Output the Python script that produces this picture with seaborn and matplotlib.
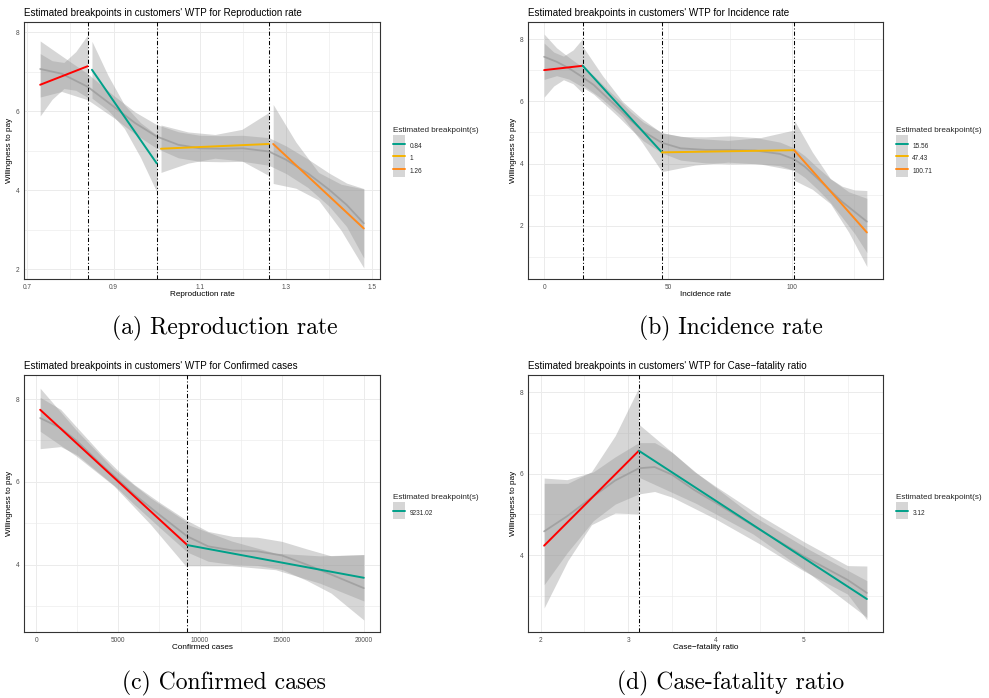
import numpy as np
import pandas as pd
import matplotlib
matplotlib.use("Agg")
import matplotlib.pyplot as plt
from matplotlib.patches import Patch, Rectangle
from matplotlib.lines import Line2D
from matplotlib.legend_handler import HandlerTuple, HandlerPatch
import seaborn as sns

sns.set_style("white")
plt.rcParams["font.family"] = ["Liberation Sans", "DejaVu Sans"]

# ---------------- (a) Reproduction rate ----------------
repro_breaks = [0.84, 1.0, 1.26]
repro_labels = ["0.84", "1", "1.26"]
repro_seg_x = [(0.73, 0.84), (0.85, 1.0), (1.01, 1.26), (1.27, 1.48)]
repro_seg_y = [(6.67, 7.14), (7.05, 4.68), (5.05, 5.17), (5.17, 3.03)]
repro_band_lo = [[5.88, 6.30, 6.575, 6.53, 6.35],
                 [6.33, 6.02, 5.565, 4.83, 3.96],
                 [4.45, 4.685, 4.81, 4.74, 4.37],
                 [4.17, 4.05, 3.75, 2.98, 2.03]]
repro_band_hi = [[7.46, 7.28, 7.235, 7.51, 7.93],
                 [7.77, 6.90, 6.165, 5.71, 5.40],
                 [5.65, 5.475, 5.41, 5.54, 5.97],
                 [6.17, 5.22, 4.45, 4.15, 4.03]]
repro_smooth_x = [0.73, 0.78, 0.84, 0.9, 0.95, 1.0, 1.05, 1.1, 1.15, 1.2, 1.26, 1.3, 1.35, 1.4, 1.44, 1.48]
repro_smooth_y = [7.07, 6.95, 6.62, 6.12, 5.70, 5.36, 5.15, 5.06, 5.05, 5.06, 4.98, 4.77, 4.43, 4.01, 3.63, 3.16]
repro_smooth_lo = [6.36, 6.50, 6.29, 5.84, 5.42, 5.06, 4.82, 4.73, 4.72, 4.73, 4.63, 4.42, 4.07, 3.59, 3.08, 2.28]
repro_smooth_hi = [7.78, 7.40, 6.95, 6.40, 5.98, 5.66, 5.48, 5.39, 5.38, 5.39, 5.33, 5.12, 4.79, 4.43, 4.18, 4.04]

# ---------------- (b) Incidence rate ----------------
incid_breaks = [15.56, 47.43, 100.71]
incid_labels = ["15.56", "47.43", "100.71"]
incid_seg_x = [(0, 15.56), (15.56, 47.43), (47.43, 100.71), (100.71, 130)]
incid_seg_y = [(7.01, 7.15), (7.15, 4.36), (4.36, 4.43), (4.43, 1.78)]
incid_band_lo = [[6.14, 6.50, 6.70, 6.57, 6.27],
                 [6.53, 6.07, 5.505, 4.68, 3.74],
                 [3.74, 3.95, 4.045, 3.98, 3.78],
                 [3.46, 3.17, 2.705, 1.79, 0.68]]
incid_band_hi = [[7.88, 7.59, 7.46, 7.66, 8.03],
                 [7.77, 6.83, 6.005, 5.44, 4.98],
                 [4.98, 4.81, 4.745, 4.84, 5.08],
                 [5.40, 4.37, 3.505, 3.09, 2.88]]
incid_smooth_x = [0, 5, 10, 15.56, 20, 25, 30, 35, 40, 47.43, 55, 65, 75, 85, 95, 100.71,
                  105, 110, 115, 120, 125, 130]
incid_smooth_y = [7.44, 7.28, 7.07, 6.78, 6.53, 6.15, 5.78, 5.38, 5.03, 4.67, 4.49, 4.44,
                  4.44, 4.42, 4.31, 4.14, 3.90, 3.53, 3.15, 2.77, 2.45, 2.13]
incid_smooth_lo = [6.71, 6.83, 6.72, 6.46, 6.23, 5.87, 5.50, 5.10, 4.73, 4.34, 4.11, 4.02,
                   3.99, 4.00, 3.93, 3.78, 3.55, 3.18, 2.77, 2.27, 1.75, 1.13]
incid_smooth_hi = [8.17, 7.73, 7.42, 7.10, 6.83, 6.43, 6.06, 5.66, 5.33, 5.00, 4.87, 4.86,
                   4.89, 4.84, 4.69, 4.50, 4.25, 3.88, 3.53, 3.27, 3.15, 3.13]

# ---------------- (c) Confirmed cases ----------------
cases_breaks = [9231.02]
cases_labels = ["9231.02"]
cases_seg_x = [(250, 9231.02), (9231.02, 20000)]
cases_seg_y = [(7.74, 4.47), (4.47, 3.68)]
cases_band_lo = [[7.22, 6.61, 5.905, 4.97, 3.92],
                 [3.97, 3.97, 3.875, 3.55, 3.12]]
cases_band_hi = [[8.26, 7.23, 6.305, 5.61, 5.02],
                 [4.97, 4.57, 4.275, 4.21, 4.24]]
cases_smooth_x = [250, 1500, 2500, 4000, 5000, 6000, 7500, 9231, 10500, 12000, 13500,
                  15000, 16500, 18000, 20000]
cases_smooth_y = [7.54, 7.30, 6.98, 6.41, 6.05, 5.69, 5.21, 4.68, 4.44, 4.34, 4.32,
                  4.22, 4.00, 3.76, 3.43]
cases_smooth_lo = [6.80, 6.85, 6.65, 6.16, 5.83, 5.45, 4.91, 4.30, 4.08, 4.00, 3.98,
                   3.88, 3.62, 3.31, 2.66]
cases_smooth_hi = [8.04, 7.75, 7.31, 6.66, 6.27, 5.93, 5.51, 5.06, 4.80, 4.68, 4.66,
                   4.56, 4.38, 4.21, 4.24]

# ---------------- (d) Case-fatality ratio ----------------
cfr_breaks = [3.12]
cfr_labels = ["3.12"]
cfr_seg_x = [(2.04, 3.12), (3.12, 5.72)]
cfr_seg_y = [(4.23, 6.56), (6.56, 2.92)]
cfr_band_lo = [[2.70, 3.86, 4.745, 5.03, 5.01],
               [5.91, 5.27, 4.52, 3.535, 2.47]]
cfr_band_hi = [[5.76, 5.76, 6.045, 6.93, 8.11],
               [7.21, 6.03, 4.96, 4.125, 3.37]]
cfr_smooth_x = [2.04, 2.3, 2.6, 2.85, 3.12, 3.3, 3.5, 3.75, 4.0, 4.5, 5.0, 5.5, 5.72]
cfr_smooth_y = [4.58, 4.95, 5.44, 5.83, 6.13, 6.16, 5.97, 5.60, 5.28, 4.62, 3.97, 3.39, 3.07]
cfr_smooth_lo = [3.27, 4.05, 4.84, 5.25, 5.50, 5.56, 5.42, 5.15, 4.88, 4.27, 3.61, 3.04, 2.41]
cfr_smooth_hi = [5.89, 5.85, 6.04, 6.41, 6.76, 6.76, 6.52, 6.05, 5.68, 4.97, 4.33, 3.74, 3.73]

SEG_COLORS = ["#FF0000", "#00A089", "#F5B400", "#FF8A1C"]
RIBBON = "#999999"
KEY_FILL = "#D6D6D6"
SMOOTH_COLOR = "#9C9C9C"

FIG_W, FIG_H = 989, 698
fig = plt.figure(figsize=(FIG_W / 100, FIG_H / 100), dpi=100)


def px_axes(x0, y0, x1, y1):
    return fig.add_axes([x0 / FIG_W, 1 - y1 / FIG_H, (x1 - x0) / FIG_W, (y1 - y0) / FIG_H])


def full_key(legend, orig_handle, xdescent, ydescent, width, height, fontsize):
    # key background filling the whole legend row
    return Rectangle((-xdescent, -ydescent), width, height + ydescent)


def draw_panel(box, var_name, breaks, labels, seg_x, seg_y, band_lo, band_hi,
               sm_x, sm_y, sm_lo, sm_hi, xlim, ylim, xmajor, xminor, ymajor, yminor,
               xticklabels, legend_at):
    ax = px_axes(*box)
    h_px = box[3] - box[1]
    w_px = box[2] - box[0]

    # confidence ribbons of each segment fit
    for (xa, xb), lo, hi in zip(seg_x, band_lo, band_hi):
        bx = np.linspace(xa, xb, len(lo))
        ax.fill_between(bx, lo, hi, color=RIBBON, alpha=0.4, lw=0, zorder=1)
    # ribbon of the smooth fit
    ax.fill_between(sm_x, sm_lo, sm_hi, color=RIBBON, alpha=0.4, lw=0, zorder=1)
    sns.lineplot(x=sm_x, y=sm_y, ax=ax, color=SMOOTH_COLOR, lw=1.3, alpha=0.8,
                 estimator=None, sort=False, zorder=2)

    for b in breaks:
        ax.axvline(b, color="black", lw=0.75, ls=(0, (4, 2, 1, 2)), zorder=3)

    names = ["start"] + labels
    seg_df = pd.DataFrame({
        "x": [v for pair in seg_x for v in pair],
        "y": [v for pair in seg_y for v in pair],
        "segment": [n for n in names for _ in range(2)],
    })
    palette = dict(zip(names, SEG_COLORS))
    sns.lineplot(data=seg_df, x="x", y="y", hue="segment", palette=palette, ax=ax,
                 estimator=None, sort=False, legend=False, lw=1.4, zorder=4)

    ax.set_xlim(*xlim)
    ax.set_ylim(*ylim)
    ax.set_xticks(xmajor)
    ax.set_xticklabels(xticklabels)
    ax.set_xticks(xminor, minor=True)
    ax.set_yticks(ymajor)
    ax.set_yticklabels([str(v) for v in ymajor])
    ax.set_yticks(yminor, minor=True)
    ax.set_axisbelow(True)
    ax.grid(which="major", color="#EBEBEB", lw=0.7)
    ax.grid(which="minor", color="#EBEBEB", lw=0.45)
    ax.tick_params(which="major", length=2, width=0.5, color="#333333",
                   labelsize=4.7, labelcolor="#4D4D4D", pad=1.5)
    ax.tick_params(which="minor", length=0)
    for s in ax.spines.values():
        s.set_color("#333333")
        s.set_linewidth(0.8)

    ax.set_xlabel(var_name, fontsize=5.9, color="black")
    ax.set_ylabel("Willingness to pay", fontsize=5.9, color="black")
    ax.xaxis.label.set_verticalalignment("center")
    ax.yaxis.label.set_verticalalignment("center")
    ax.xaxis.set_label_coords(0.5, -15.5 / h_px)
    ax.yaxis.set_label_coords(-14.5 / w_px, 0.5)

    ax.text(0, 1 + 9.2 / h_px, f"Estimated breakpoints in customers' WTP for {var_name}",
            transform=ax.transAxes, ha="left", va="center", fontsize=7.1, color="black")

    handles = [(Patch(facecolor=KEY_FILL, edgecolor="none"), Line2D([], [], color=c, lw=1.4))
               for c in SEG_COLORS[1:len(labels) + 1]]
    leg = fig.legend(handles, labels,
                     handler_map={tuple: HandlerTuple(ndivide=1, pad=0),
                                  Patch: HandlerPatch(patch_func=full_key)},
                     title="Estimated breakpoint(s)", loc="upper left",
                     bbox_to_anchor=(legend_at[0] / FIG_W, 1 - legend_at[1] / FIG_H),
                     frameon=False, fontsize=4.7, title_fontsize=5.9, handlelength=1.8,
                     handleheight=2.6, labelspacing=0, handletextpad=0.7, borderpad=0,
                     borderaxespad=0, alignment="left")
    leg._legend_box.sep = 4
    return ax


draw_panel((24, 22, 380, 279), "Reproduction rate", repro_breaks, repro_labels,
           repro_seg_x, repro_seg_y, repro_band_lo, repro_band_hi,
           repro_smooth_x, repro_smooth_y, repro_smooth_lo, repro_smooth_hi,
           (0.6925, 1.5175), (1.75, 8.26), [0.7, 0.9, 1.1, 1.3, 1.5], [0.8, 1.0, 1.2, 1.4],
           [2, 4, 6, 8], [3, 5, 7], ["0.7", "0.9", "1.1", "1.3", "1.5"], (393, 127))

draw_panel((528, 22, 883, 279), "Incidence rate", incid_breaks, incid_labels,
           incid_seg_x, incid_seg_y, incid_band_lo, incid_band_hi,
           incid_smooth_x, incid_smooth_y, incid_smooth_lo, incid_smooth_hi,
           (-6.5, 136.5), (0.28, 8.56), [0, 50, 100], [25, 75, 125],
           [2, 4, 6, 8], [1, 3, 5, 7], ["0", "50", "100"], (896, 127))

draw_panel((24, 375, 380, 632), "Confirmed cases", cases_breaks, cases_labels,
           cases_seg_x, cases_seg_y, cases_band_lo, cases_band_hi,
           cases_smooth_x, cases_smooth_y, cases_smooth_lo, cases_smooth_hi,
           (-737, 20987), (2.37, 8.58), [0, 5000, 10000, 15000, 20000],
           [2500, 7500, 12500, 17500], [4, 6, 8], [3, 5, 7],
           ["0", "5000", "10000", "15000", "20000"], (393, 494))

draw_panel((528, 375, 883, 632), "Case\u2212fatality ratio", cfr_breaks, cfr_labels,
           cfr_seg_x, cfr_seg_y, cfr_band_lo, cfr_band_hi,
           cfr_smooth_x, cfr_smooth_y, cfr_smooth_lo, cfr_smooth_hi,
           (1.856, 5.904), (2.11, 8.42), [2, 3, 4, 5], [2.5, 3.5, 4.5, 5.5],
           [4, 6, 8], [3, 5, 7], ["2", "3", "4", "5"], (896, 494))

captions = ["(a) Reproduction rate", "(b) Incidence rate", "(c) Confirmed cases",
            "(d) Case-fatality ratio"]
caption_xy = [(225, 328), (731, 328), (224, 683), (731, 683)]
for text, (cx, cy) in zip(captions, caption_xy):
    fig.text(cx / FIG_W, 1 - cy / FIG_H, text, ha="center", va="center",
             fontsize=17, family="cmr10", color="black")

fig.savefig("out.png", dpi=100)
